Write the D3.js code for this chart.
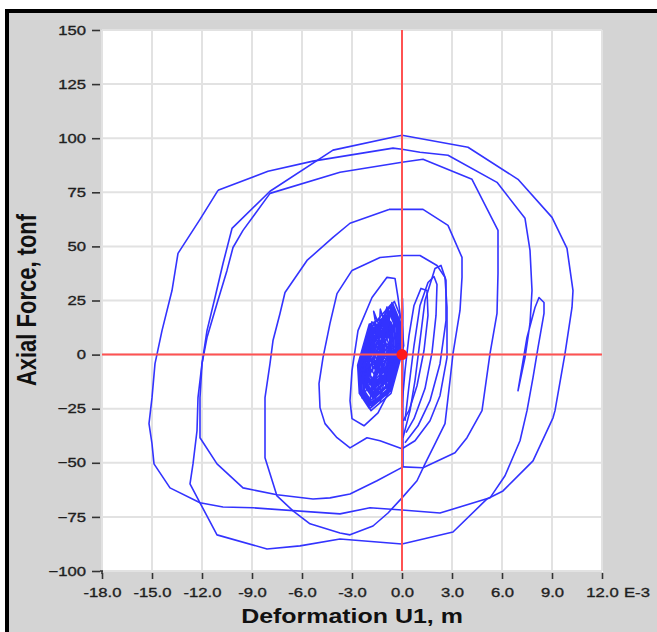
<!DOCTYPE html>
<html><head><meta charset="utf-8">
<script src="https://cdn.jsdelivr.net/npm/d3@7"></script>
<style>html,body{margin:0;padding:0;background:#fff;} svg{display:block}</style>
</head><body>
<svg id="c" width="657" height="632"></svg>
<script>
// ---- axis ticks ----
const xTickValues = [-18,-15,-12,-9,-6,-3,0,3,6,9,12];
const xTickLabels = ["-18.0","-15.0","-12.0","-9.0","-6.0","-3.0","0.0","3.0","6.0","9.0","12.0"];
const xUnitLabel = "E-3";
const yTickValues = [150,125,100,75,50,25,0,-25,-50,-75,-100];
const xTitle = "Deformation U1, m";
const yTitle = "Axial Force, tonf";

// ---- series: deformation (E-3 m), axial force (tonf) ----
const loopOuter = [[-11.04,75.9],[-8.04,84.7],[-5.34,89.4],[-0.54,95.4],[0,94.9],[1.08,93.5],[2.76,92.1],[5.7,79.6],[7.38,63.0],[7.68,48.2],[7.8,29.6],[7.68,14.4],[7.38,-1.4],[6.96,-16.7],[7.5,7.9],[7.98,21.8],[8.22,26.4],[8.52,24.1],[8.52,19.0],[8.16,3.2],[7.86,-10.6],[7.5,-25.9],[7.08,-39.8],[6.18,-56.0],[5.28,-66.2],[2.28,-73.2],[0,-71.8],[-1.92,-70.8],[-3.72,-73.6],[-8.94,-70.8],[-10.74,-70.4],[-12.12,-68.5],[-13.92,-61.6],[-14.88,-50.5],[-15.0,-41.2],[-15.18,-31.9],[-15.0,-19.9],[-14.82,-4.2],[-14.4,11.1],[-13.8,29.6],[-13.44,46.8],[-12.12,62.5],[-11.04,75.9]];
const loopApex = [[0,101.4],[3.96,95.8],[6.96,81.0],[9.0,63.4],[9.9,49.1],[10.26,29.6],[10.2,21.8],[9.78,0.5],[9.18,-25.9],[9.06,-29.2],[7.86,-49.1],[6.06,-63.0],[5.1,-66.7],[3.06,-82.0],[0,-87.5],[-3.72,-85.2],[-6.12,-88.4],[-8.1,-89.8],[-11.1,-83.3],[-12.12,-68.5],[-12.72,-59.7],[-12.54,-50.5],[-12.3,-35.2],[-12.24,-19.9],[-12.0,-4.2],[-11.7,11.1],[-11.22,26.4],[-10.74,42.1],[-10.2,58.3],[-7.92,75.5],[-4.14,94.5],[0,101.4]];
const loopThird = [[0,88.9],[1.26,90.3],[4.2,81.0],[5.76,57.4],[5.76,37.5],[5.7,19.0],[5.28,0.5],[4.8,-25.9],[3.9,-38.4],[3.18,-45.4],[1.26,-52.3],[0.06,-51.9],[-1.5,-58.3],[-3.12,-64.4],[-4.32,-66.2],[-5.34,-66.7],[-7.5,-64.8],[-9.54,-61.6],[-11.1,-50.5],[-12.12,-38.4],[-12.12,-19.9],[-12.0,-4.2],[-11.7,7.9],[-11.1,23.6],[-10.5,38.9],[-10.14,49.5],[-9.54,57.4],[-7.92,74.5],[-3.72,84.3],[0,88.9]];
const loopFourth = [[-0.78,67.1],[1.26,67.1],[2.76,59.7],[3.6,44.9],[3.6,35.7],[3.48,20.4],[3.06,0.5],[2.88,-12.0],[2.58,-31.9],[1.86,-43.1],[1.38,-50.5],[0.9,-58.3],[0,-66.2],[-0.84,-73.2],[-1.74,-79.2],[-3.12,-83.3],[-3.72,-82.4],[-5.52,-78.2],[-6.54,-72.2],[-7.5,-65.3],[-8.22,-47.7],[-8.22,-19.9],[-7.92,-4.2],[-7.74,6.5],[-7.32,19.0],[-7.02,28.7],[-5.7,43.5],[-4.14,54.2],[-3.12,60.7],[-0.78,67.1]];
const loopFifth = [[-3.0,38.9],[-1.32,44.9],[0,45.8],[1.08,45.8],[2.1,41.2],[2.58,35.7],[2.7,21.8],[2.7,-1.4],[2.28,-19.0],[1.68,-30.6],[0.78,-39.8],[0,-43.5],[-1.32,-39.8],[-2.1,-38.4],[-3.12,-43.1],[-3.9,-38.4],[-4.62,-31.9],[-4.92,-24.5],[-4.98,-13.4],[-4.74,-1.4],[-4.32,14.4],[-3.9,28.2],[-3.0,38.9]];
const narrowLeft = [[-3.12,-21.3],[-3.0,-7.4],[-2.64,11.1],[-1.8,26.4],[-0.9,35.7],[-0.42,35.2],[-0.24,26.4],[-0.12,19.0],[-0.18,1.9],[-0.6,-14.4],[-1.44,-26.9],[-2.28,-32.9],[-3.0,-29.6],[-3.12,-21.3]];
const narrowRight1 = [[0.06,-38.4],[0.48,-25.9],[0.78,-12.0],[1.08,6.5],[1.38,25.0],[1.98,39.8],[2.34,41.2],[2.64,34.3],[2.64,15.7],[2.28,-4.2],[1.68,-21.3],[0.96,-32.9],[0.18,-40.7]];
const narrowRight2 = [[0.18,-30.6],[0.42,-14.4],[0.72,4.2],[1.08,22.7],[1.56,33.3],[1.92,36.1],[2.1,32.4],[2.04,18.1],[1.8,0.9],[1.38,-15.7],[0.72,-29.6],[0.24,-36.1]];
const narrowRight3 = [[0,-23.6],[0.18,-7.4],[0.42,8.8],[0.72,22.7],[1.14,30.6],[1.5,29.6],[1.56,18.1],[1.32,1.9],[0.9,-14.4],[0.42,-25.9],[0.06,-30.6]];
const stem = [[0.06,-51.9],[0.06,-40],[0.05,-20],[0.05,0],[0.05,20],[0.03,26]];
const blobCycles = [
 [-0.56,23.6],[-0.11,15.1],[0.0,3.1],[-0.71,-16.9],[-1.91,-24.9],[-2.51,-17.9],[-2.61,-4.9],[-1.91,14.1],
 [-0.6,18.6],[-0.24,11.8],[-0.15,2.2],[-0.72,-13.8],[-1.68,-20.2],[-2.16,-14.6],[-2.24,-4.2],[-1.68,11.0],
 [-0.73,22.1],[-0.33,14.5],[-0.23,3.7],[-0.87,-14.4],[-1.95,-21.6],[-2.49,-15.3],[-2.58,-3.6],[-1.95,13.6],
 [-0.84,13.6],[-0.57,8.5],[-0.5,1.3],[-0.93,-10.7],[-1.65,-15.5],[-2.01,-11.3],[-2.07,-3.5],[-1.65,7.9],
 [-0.51,22.6],[-0.06,14.1],[0.05,2.1],[-0.66,-17.9],[-1.86,-25.9],[-2.46,-18.9],[-2.56,-5.9],[-1.86,13.1],
 [-0.98,8.6],[-0.8,5.2],[-0.76,0.4],[-1.04,-7.6],[-1.52,-10.8],[-1.76,-8.0],[-1.8,-2.8],[-1.52,4.8],
 [-0.87,16.1],[-0.56,10.2],[-0.48,1.8],[-0.98,-12.3],[-1.82,-17.9],[-2.24,-13.0],[-2.31,-3.9],[-1.82,9.5],
 [-0.53,21.1],[-0.13,13.5],[-0.03,2.7],[-0.67,-15.4],[-1.75,-22.6],[-2.29,-16.3],[-2.38,-4.6],[-1.75,12.6],
 [-1.05,6.1],[-0.92,3.55],[-0.88,-0.05],[-1.1,-6.05],[-1.46,-8.45],[-1.64,-6.35],[-1.67,-2.45],[-1.46,3.25],
 [-0.91,11.1],[-0.69,6.9],[-0.63,0.9],[-0.99,-9.2],[-1.59,-13.2],[-1.89,-9.7],[-1.94,-3.2],[-1.59,6.4],
 [-0.8,20.1],[-0.44,13.3],[-0.35,3.7],[-0.92,-12.3],[-1.88,-18.7],[-2.36,-13.1],[-2.44,-2.7],[-1.88,12.5],
 [-0.61,23.6],[-0.16,15.1],[-0.05,3.1],[-0.76,-16.9],[-1.96,-24.9],[-2.56,-17.9],[-2.66,-4.9],[-1.96,14.1],
 [-1.12,3.6],[-1.0,-0.5],[-1.39,-6.1],[-1.53,-2.1],
 [-0.67,15.1],[-0.36,9.2],[-0.28,0.8],[-0.78,-13.3],[-1.62,-18.9],[-2.04,-14.0],[-2.11,-4.9],[-1.62,8.5],
 [-0.63,21.1],[-0.23,13.5],[-0.13,2.7],[-0.77,-15.4],[-1.85,-22.6],[-2.39,-16.3],[-2.48,-4.6],[-1.85,12.6],
 [-0.94,13.6],[-0.67,8.5],[-0.6,1.3],[-1.03,-10.7],[-1.75,-15.5],[-2.11,-11.3],[-2.17,-3.5],[-1.75,7.9],
 [-0.65,18.6],[-0.29,11.8],[-0.2,2.2],[-0.77,-13.8],[-1.73,-20.2],[-2.21,-14.6],[-2.29,-4.2],[-1.73,11.0],
 [-0.46,24.6],[-0.01,16.1],[0.1,4.1],[-0.61,-15.9],[-1.81,-23.9],[-2.41,-16.9],[-2.51,-3.9],[-1.81,15.1],
 [-0.96,11.1],[-0.74,6.9],[-0.68,0.9],[-1.04,-9.2],[-1.64,-13.2],[-1.94,-9.7],[-1.99,-3.2],[-1.64,6.4],
 [-0.73,20.1],[-0.33,12.5],[-0.23,1.7],[-0.87,-16.4],[-1.95,-23.6],[-2.49,-17.3],[-2.58,-5.6],[-1.95,11.6],
 [-0.77,16.1],[-0.46,10.2],[-0.38,1.8],[-0.88,-12.3],[-1.72,-17.9],[-2.14,-13.0],[-2.21,-3.9],[-1.72,9.5],
 [-0.62,19.0],[-0.22,12.2],[-0.12,2.6],[-0.7,-13.4],[-1.66,-19.8],[-2.14,-14.2],[-2.22,-3.8],[-1.66,11.4],
 [-0.84,14.6],[-0.57,9.5],[-0.5,2.3],[-0.93,-9.7],[-1.65,-14.5],[-2.01,-10.3],[-2.07,-2.5],[-1.65,8.9],
 [-1.0,-2],[0,0]];
const blobZigzag = [[-0.6,20],[-2.2,-12],[-0.3,10],[-2.4,-20],[-0.9,22],[-1.8,-24],[-0.2,5],[-2.5,-8],[-1.1,18],[-1.3,-22],[-0.5,14],[-2.3,-15],[-1.5,12],[-0.8,-18],[-2.0,8],[-0.4,-6],[-1.7,20],[-1.0,-12],[-2.3,2],[-0.3,-2],[-1.3,21],[-1.6,-20],[-0.7,6],[-2.1,-4],[-0.9,16],[-1.9,-17],[-0.5,0],[-2.4,-10],[-1.2,10],[-1.4,-14],[-0.6,24],[-2.0,-23],[-1.0,4],[-1.7,-6]];
const currentPoint = [0,0];

// ---- drawing ----
const svg = d3.select("#c");
const W = 657, H = 632;
const x = d3.scaleLinear().domain([-18,12]).range([102,602]);
const y = d3.scaleLinear().domain([-100,150]).range([571,30]);
const SX = 1.28;

svg.append("rect").attr("x",0).attr("y",0).attr("width",W).attr("height",H).attr("fill","#ffffff");
svg.append("rect").attr("x",5).attr("y",9).attr("width",W-5).attr("height",H-9).attr("fill","#000");
svg.append("rect").attr("x",9).attr("y",13).attr("width",W-9).attr("height",H-13).attr("fill","#d4d4d4");
svg.append("rect").attr("x",x(-18)).attr("y",y(150)).attr("width",x(12)-x(-18)+1).attr("height",y(-100)-y(150)+1).attr("fill","#ffffff");

const grid = svg.append("g");
grid.selectAll("line.v").data(xTickValues).join("line").attr("class","v")
  .attr("x1",d=>x(d)).attr("x2",d=>x(d)).attr("y1",y(150)).attr("y2",y(-100))
  .attr("stroke","#e2e2e2").attr("stroke-width",2);
grid.selectAll("line.h").data(yTickValues).join("line").attr("class","h")
  .attr("y1",d=>y(d)).attr("y2",d=>y(d)).attr("x1",x(-18)).attr("x2",x(12))
  .attr("stroke","#e2e2e2").attr("stroke-width",2);

const line = d3.line().x(d=>x(d[0])).y(d=>y(d[1]));
const series = [loopOuter, loopApex, loopThird, loopFourth, loopFifth, narrowLeft, narrowRight1, narrowRight2, narrowRight3, stem, blobCycles, blobZigzag];
svg.append("g").selectAll("path").data(series).join("path")
  .attr("d",line).attr("fill","none").attr("stroke","#3333ff").attr("stroke-width",1.6)
  .attr("stroke-linejoin","round");

// red zero axes
svg.append("line").attr("x1",x(0)).attr("x2",x(0)).attr("y1",y(150)).attr("y2",y(-100))
  .attr("stroke","#ff5252").attr("stroke-width",2);
svg.append("line").attr("x1",x(-18)).attr("x2",x(12)).attr("y1",y(0)).attr("y2",y(0))
  .attr("stroke","#ff5252").attr("stroke-width",2);
svg.append("circle").attr("cx",x(currentPoint[0])).attr("cy",y(currentPoint[1])).attr("r",5.5).attr("fill","#ff1a1a");

// axes
const font = "'Liberation Sans', Arial, sans-serif";
const yAxis = svg.append("g").attr("transform","translate(100,0)")
  .call(d3.axisLeft(y).tickValues(yTickValues).tickSize(8).tickFormat(d3.format("d")));
yAxis.select(".domain").remove();
yAxis.selectAll(".tick line").attr("stroke","#333").attr("stroke-width",1.6);
yAxis.selectAll(".tick text").attr("x",-14/SX).attr("transform",`scale(${SX},1)`)
  .attr("font-family",font).attr("font-size",13).attr("fill","#1e1e1e")
  .attr("stroke","#1e1e1e").attr("stroke-width",0.35);

const xAxis = svg.append("g").attr("transform","translate(0,573)")
  .call(d3.axisBottom(x).tickValues(xTickValues).tickSize(6).tickFormat((d,i)=>xTickLabels[i]));
xAxis.select(".domain").remove();
xAxis.selectAll(".tick line").attr("stroke","#333").attr("stroke-width",1.6);
xAxis.selectAll(".tick text").attr("y",14.5).attr("transform",`scale(${SX},1)`)
  .attr("font-family",font).attr("font-size",13).attr("fill","#1e1e1e")
  .attr("stroke","#1e1e1e").attr("stroke-width",0.35);
// corner mark
svg.append("line").attr("x1",x(-18)-2).attr("x2",x(-18)+1).attr("y1",y(-100)).attr("y2",y(-100)).attr("stroke","#333").attr("stroke-width",1.6);
svg.append("line").attr("x1",x(-18)).attr("x2",x(-18)).attr("y1",y(-100)).attr("y2",574).attr("stroke","#333").attr("stroke-width",1.6);

svg.append("text").attr("transform",`translate(${x(12)+22},597) scale(${SX},1)`)
  .attr("font-family",font).attr("font-size",13).attr("fill","#1e1e1e")
  .attr("stroke","#1e1e1e").attr("stroke-width",0.35).text(xUnitLabel);

svg.append("text").attr("transform",`translate(352,623) scale(${SX},1)`)
  .attr("text-anchor","middle").attr("font-family",font).attr("font-weight","bold")
  .attr("font-size",19.5).attr("fill","#111").text(xTitle);
svg.append("text").attr("transform",`translate(36,300) scale(${SX},1) rotate(-90)`)
  .attr("text-anchor","middle").attr("font-family",font).attr("font-weight","bold")
  .attr("font-size",22).attr("fill","#111").text(yTitle);
</script>
</body></html>
